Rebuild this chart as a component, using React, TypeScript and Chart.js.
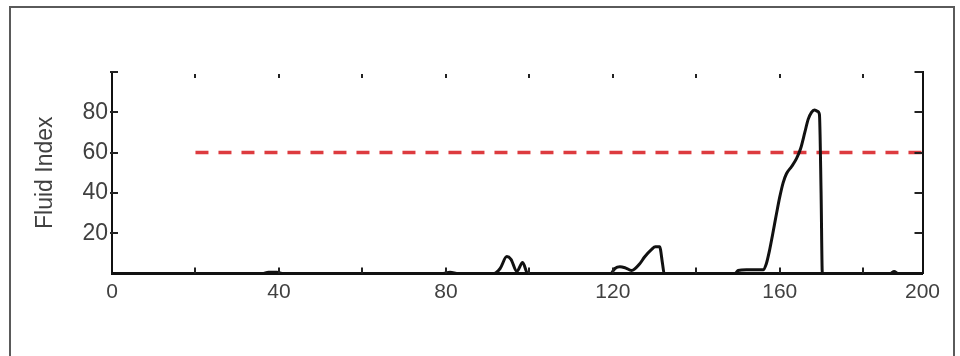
import React, { useEffect, useRef } from 'react';
import { Chart, registerables } from 'chart.js';

Chart.register(...registerables);

// Axis / tick definitions (the last labelled tick sits at the axis end, labelled "200" as in the source)
const X_MAX = 194.2;
const X_TICK_VALUES = [0, 40, 80, 120, 160, X_MAX];
const X_TICK_LABELS = ['0', '40', '80', '120', '160', '200'];
const X_MINOR_TICKS = [20, 40, 60, 80, 100, 120, 140, 160, 180];
const Y_TICK_VALUES = [20, 40, 60, 80];
const Y_MARK_VALUES = [20, 40, 60, 80, 100];

// Fluid index trace
const FLUID_X = [
  0, 36, 37.5, 39.5, 41, 79, 81, 83, 91.5, 93, 94.6, 95.6, 97, 98.4, 99.6,
  119.5, 120.5, 121.7, 123, 124.5, 126.4, 127.6, 129.3, 130.2, 131.2, 131.9, 132.3,
  149.3, 150, 152, 156, 156.8, 157.5, 158.3, 159.2, 160, 160.8, 161.6, 162.8, 164,
  165, 166, 166.8, 167.6, 168.3, 169, 169.5, 169.9, 170.2, 186.5, 187.4, 188.3, X_MAX,
];
const FLUID_Y = [
  0, 0, 0.6, 0.6, 0, 0, 0.6, 0, 0, 2.5, 8.4, 7, 1, 5.5, 0,
  0, 2.5, 3.4, 2.8, 1.5, 4.7, 8.2, 12, 13.3, 13.3, 5, 0,
  0, 1.5, 1.8, 1.8, 5, 11, 19.5, 29.5, 38, 45, 49.5, 53, 57,
  62, 70, 76.5, 80, 81.2, 80.5, 79, 40, 0, 0, 1, 0, 0,
];

// Threshold line
const THRESHOLD_X = [20, X_MAX];
const THRESHOLD_Y = [60, 60];

const TEXT_COLOR = '#404040';
const FONT = "'Liberation Sans', Arial, sans-serif";

const tickPlugin = {
  id: 'inwardTicks',
  afterDraw(chart: any) {
    const { ctx, chartArea: a, scales } = chart;
    const xs = scales.x;
    const ys = scales.y;
    ctx.save();
    ctx.strokeStyle = '#222';
    ctx.lineWidth = 2;
    ctx.beginPath();
    for (const v of X_MINOR_TICKS) {
      const px = Math.round(xs.getPixelForValue(v));
      ctx.moveTo(px, a.top + 2);
      ctx.lineTo(px, a.top + 6);
      ctx.moveTo(px, a.bottom);
      ctx.lineTo(px, a.bottom - 6);
    }
    for (const v of Y_MARK_VALUES) {
      const py = Math.round(ys.getPixelForValue(v));
      ctx.moveTo(a.left - 2, py);
      ctx.lineTo(a.left + 6, py);
      ctx.moveTo(a.right, py);
      ctx.lineTo(a.right - 8, py);
    }
    ctx.stroke();
    ctx.restore();
  },
};

export default function App() {
  const ref = useRef<HTMLCanvasElement | null>(null);

  useEffect(() => {
    if (!ref.current) return;
    const chart = new Chart(ref.current, {
      type: 'line',
      data: {
        datasets: [
          {
            data: FLUID_X.map((x, i) => ({ x, y: FLUID_Y[i] })),
            borderColor: '#111',
            borderWidth: 3,
            pointRadius: 0,
            cubicInterpolationMode: 'monotone',
            fill: false,
            clip: 6,
          },
          {
            data: THRESHOLD_X.map((x, i) => ({ x, y: THRESHOLD_Y[i] })),
            borderColor: '#dd3b3f',
            borderWidth: 3.5,
            borderDash: [13, 10],
            pointRadius: 0,
            fill: false,
          },
        ],
      },
      options: {
        responsive: false,
        animation: false,
        devicePixelRatio: 1,
        layout: { padding: { left: 0, right: 0, top: 72, bottom: 0 } },
        plugins: { legend: { display: false }, tooltip: { enabled: false } },
        scales: {
          x: {
            type: 'linear',
            min: 0,
            max: X_MAX,
            position: 'bottom',
            grid: { display: false, drawTicks: false },
            border: { display: true, color: '#111', width: 3 },
            afterBuildTicks: (s: any) => {
              s.ticks = X_TICK_VALUES.map((v) => ({ value: v }));
            },
            afterFit: (s: any) => {
              s.height = 82.5;
            },
            ticks: {
              autoSkip: false,
              maxRotation: 0,
              padding: 6,
              color: TEXT_COLOR,
              font: { family: FONT, size: 21 },
              callback: (_v: any, i: number) => X_TICK_LABELS[i],
            },
          },
          y: {
            type: 'linear',
            min: 0,
            max: 100,
            position: 'left',
            grid: { display: false, drawTicks: false },
            border: { display: true, color: '#111', width: 2 },
            afterBuildTicks: (s: any) => {
              s.ticks = Y_TICK_VALUES.map((v) => ({ value: v }));
            },
            afterFit: (s: any) => {
              s.width = 112;
            },
            ticks: {
              padding: 4,
              color: TEXT_COLOR,
              font: { family: FONT, size: 23 },
            },
            title: {
              display: true,
              text: 'Fluid Index',
              color: TEXT_COLOR,
              font: { family: FONT, size: 23 },
              padding: { top: 32, bottom: 0 },
            },
          },
          y2: {
            type: 'linear',
            min: 0,
            max: 100,
            position: 'right',
            grid: { display: false, drawTicks: false },
            border: { display: true, color: '#111', width: 2 },
            ticks: { display: false },
            afterFit: (s: any) => {
              s.width = 37.5;
            },
          },
        },
      },
      plugins: [tickPlugin],
    } as any);
    return () => chart.destroy();
  }, []);

  return (
    <div>
      <div
        style={{
          position: 'absolute',
          left: 9,
          top: 6,
          width: 946,
          height: 400,
          boxSizing: 'border-box',
          border: '2px solid #5a5a5a',
        }}
      />
      <canvas
        ref={ref}
        width={960}
        height={356}
        style={{ position: 'absolute', left: 0, top: 0, width: 960, height: 356 }}
      />
    </div>
  );
}
